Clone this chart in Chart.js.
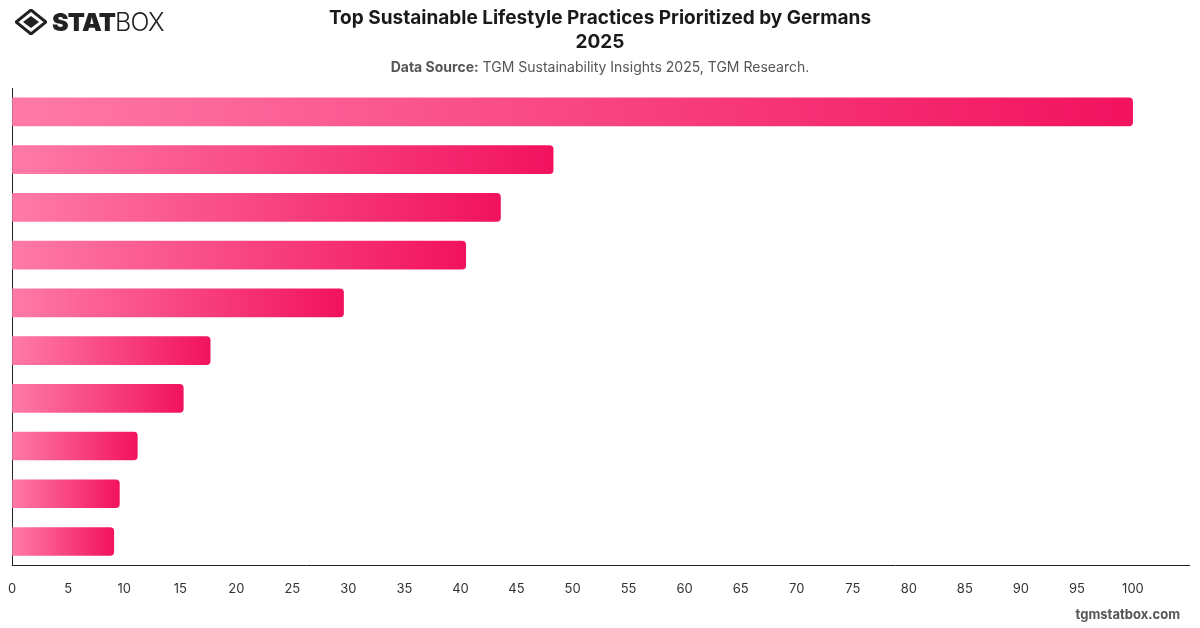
<!DOCTYPE html>
<html>
<head>
<meta charset="utf-8">
<script src="https://cdn.jsdelivr.net/npm/chart.js@4"></script>
<style>
  body { margin: 0; background: #fff; font-family: Inter, "Open Sans", sans-serif; }
  #wrap { position: relative; width: 1200px; height: 628px; overflow: hidden; }
  #chart { position: absolute; left: 0; top: 0; }
  .logo { position: absolute; left: 15px; top: 7px; display: flex; align-items: center; color: #222; }
  .logo .stat { font-weight: 900; font-size: 25px; letter-spacing: -0.8px; margin-left: 5px; }
  .logo .box { font-weight: 300; font-size: 25px; letter-spacing: -0.8px; }
  .title { position: absolute; left: 0; width: 1200px; top: 6px; text-align: center;
           font-size: 19px; font-weight: 700; color: #1a1a1a; line-height: 24px; }
  .source { position: absolute; left: 0; width: 1200px; top: 58px; text-align: center;
            font-size: 14px; color: #555; }
  .source b { color: #555; }
  .footer { position: absolute; right: 20px; top: 606px; font-size: 13px; font-weight: 700; color: #555; }
</style>
</head>
<body>
<div id="wrap">
  <canvas id="chart" width="1200" height="628"></canvas>
  <div class="logo">
    <svg width="32" height="26" viewBox="0 0 32 26">
      <path d="M16 1 L31 13 L16 25 L1 13 Z" fill="none" stroke="#222" stroke-width="3"/>
      <path d="M16 7 L24 13 L16 19 L8 13 Z" fill="#222"/>
    </svg>
    <span class="stat">STAT</span><span class="box">BOX</span>
  </div>
  <div class="title">Top Sustainable Lifestyle Practices Prioritized by Germans<br>2025</div>
  <div class="source"><b>Data Source:</b> TGM Sustainability Insights 2025, TGM Research.</div>
  <div class="footer">tgmstatbox.com</div>
</div>
<script>
// データ（値は画像から読み取り）
const categories = ['Practice 1', 'Practice 2', 'Practice 3', 'Practice 4', 'Practice 5',
                    'Practice 6', 'Practice 7', 'Practice 8', 'Practice 9', 'Practice 10'];
const values = [100, 48.3, 43.6, 40.5, 29.6, 17.7, 15.3, 11.2, 9.6, 9.1];
const xTicks = [0, 5, 10, 15, 20, 25, 30, 35, 40, 45, 50, 55, 60, 65, 70, 75, 80, 85, 90, 95, 100];

// バーごとのグラデーション（左：薄いピンク → 右：濃いピンク）
function barGradient(context) {
    const chart = context.chart;
    const xScale = chart.scales && chart.scales.x;
    if (!chart.chartArea || !xScale || context.raw == null) return '#f5407f';
    const x0 = xScale.getPixelForValue(0);
    const x1 = xScale.getPixelForValue(context.raw);
    if (!isFinite(x0) || !isFinite(x1) || x0 === x1) return '#f5407f';
    const g = chart.ctx.createLinearGradient(x0, 0, x1, 0);
    g.addColorStop(0, '#ff7aa8');
    g.addColorStop(1, '#f2125f');
    return g;
}

new Chart(document.getElementById('chart'), {
    type: 'bar',
    data: {
        labels: categories,
        datasets: [{
            data: values,
            backgroundColor: barGradient,
            borderRadius: 4,
            borderSkipped: 'start',
            barPercentage: 0.6,
            categoryPercentage: 1
        }]
    },
    options: {
        indexAxis: 'y',
        responsive: false,
        animation: false,
        layout: { padding: { left: 3, top: 88, right: 11, bottom: 23 } },
        plugins: { legend: { display: false }, tooltip: { enabled: false } },
        scales: {
            x: {
                min: 0,
                max: 105,
                afterBuildTicks: axis => { axis.ticks = xTicks.map(v => ({ value: v })); },
                grid: { display: false },
                border: { display: true, color: '#222', width: 1 },
                ticks: { color: '#333', font: { family: 'Inter', size: 13 }, padding: 8, maxRotation: 0, autoSkip: false }
            },
            y: {
                grid: { display: false },
                border: { display: true, color: '#222', width: 1 },
                ticks: { display: false }
            }
        }
    }
});
</script>
</body>
</html>
